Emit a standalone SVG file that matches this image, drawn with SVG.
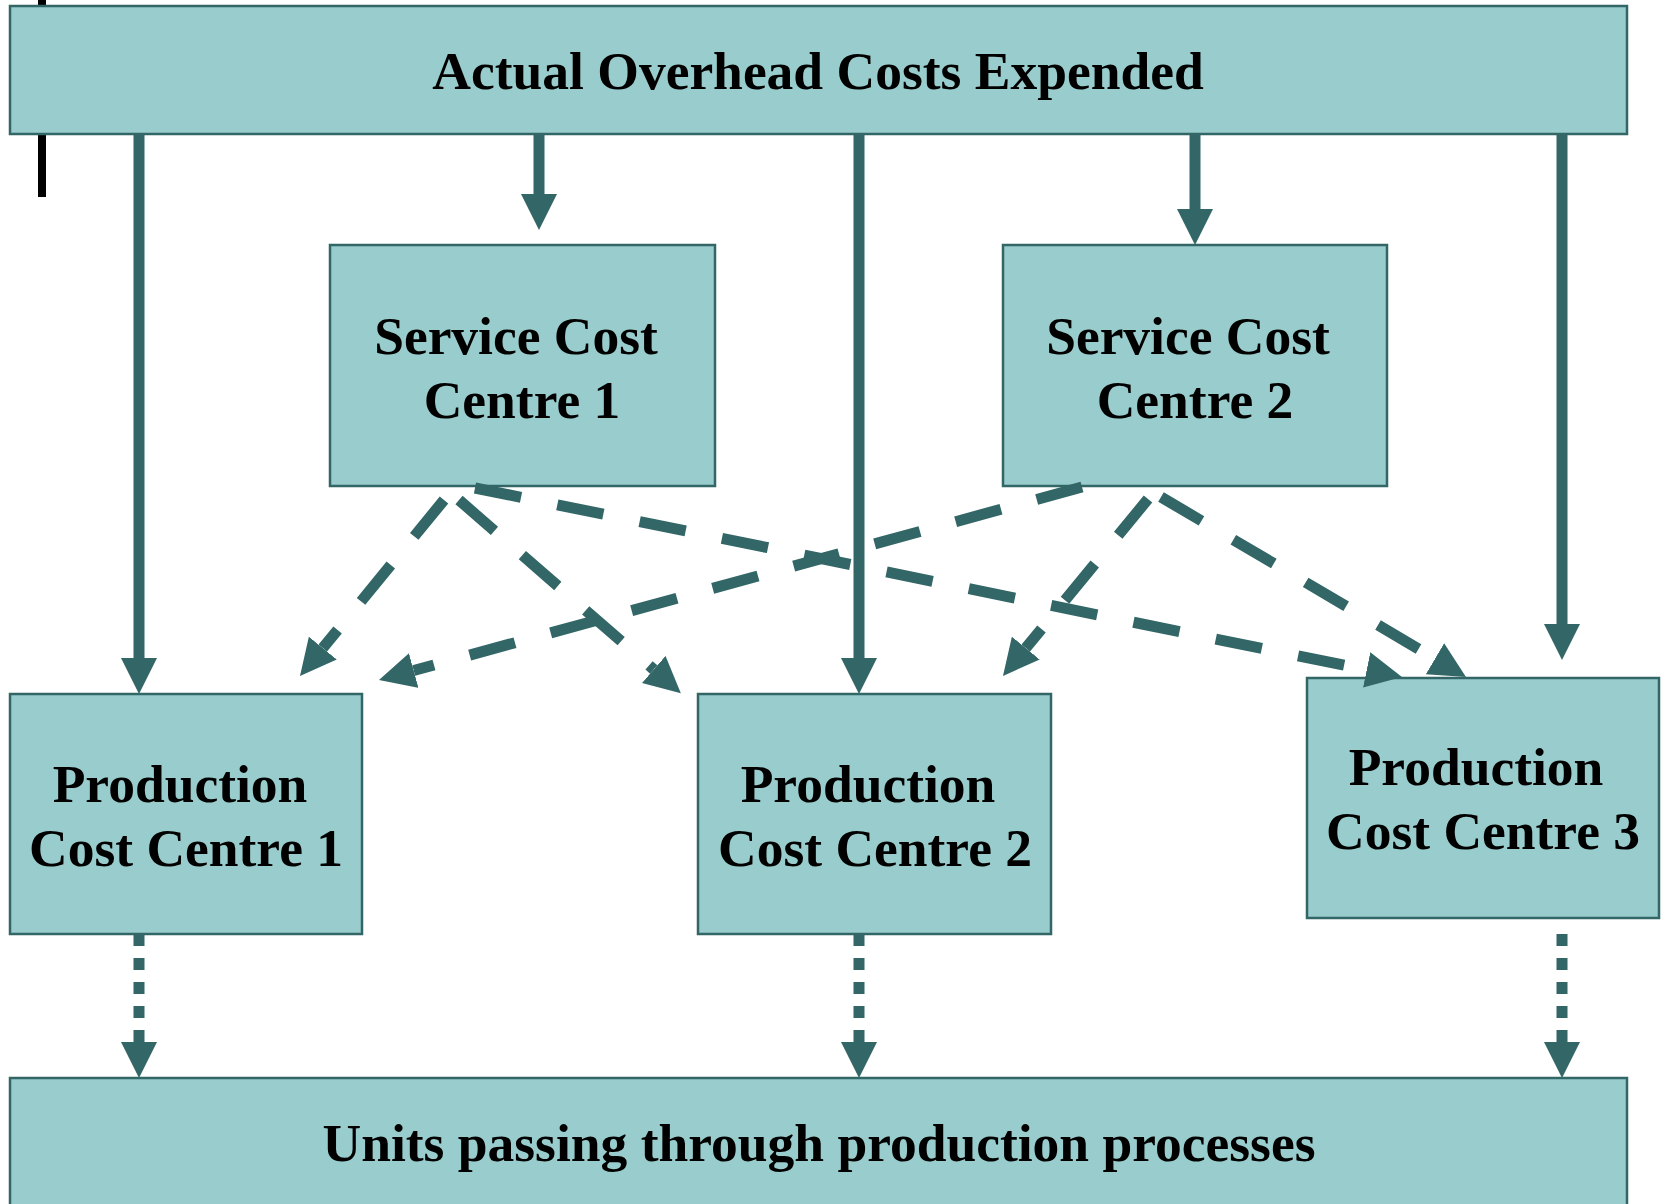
<svg xmlns="http://www.w3.org/2000/svg" width="1666" height="1204" viewBox="0 0 1666 1204">
<style>
.box{fill:#99CCCC;stroke:#336666;stroke-width:2.5}
.t{font-family:"Liberation Serif","Times New Roman",serif;font-weight:bold;font-size:53.5px;fill:#000;text-anchor:middle}
.solid{fill:none;stroke:#336666;stroke-width:11;marker-end:url(#ah)}
.dash{fill:none;stroke:#336666;stroke-width:11;stroke-dasharray:47 37;marker-end:url(#ah)}
.dot{fill:none;stroke:#336666;stroke-width:11;stroke-dasharray:12 12;marker-end:url(#ah)}
</style>
<defs>
<marker id="ah" viewBox="0 0 36 36" markerWidth="36" markerHeight="36" refX="0" refY="18" orient="auto" markerUnits="userSpaceOnUse">
<path d="M0,0 L36,18 L0,36 Z" fill="#336666"/>
</marker>
</defs>
<rect x="38" y="0" width="8" height="197" fill="#000"/>
<g id="top">
<rect class="box" x="10" y="6" width="1617" height="128"/>
<text class="t" x="818" y="89">Actual Overhead Costs Expended</text>
</g>
<g id="sc1">
<rect class="box" x="330" y="245" width="385" height="241"/>
<text class="t" x="516" y="354">Service Cost</text>
<text class="t" x="522" y="418">Centre 1</text>
</g>
<g id="sc2">
<rect class="box" x="1003" y="245" width="384" height="241"/>
<text class="t" x="1188" y="354">Service Cost</text>
<text class="t" x="1195" y="418">Centre 2</text>
</g>
<g id="pc1">
<rect class="box" x="10" y="694" width="352" height="240"/>
<text class="t" x="180" y="802">Production</text>
<text class="t" x="186" y="866">Cost Centre 1</text>
</g>
<g id="pc2">
<rect class="box" x="698" y="694" width="353" height="240"/>
<text class="t" x="868" y="802">Production</text>
<text class="t" x="875" y="866">Cost Centre 2</text>
</g>
<g id="pc3">
<rect class="box" x="1307" y="678" width="352" height="240"/>
<text class="t" x="1476" y="785">Production</text>
<text class="t" x="1483" y="849">Cost Centre 3</text>
</g>
<g id="bottom">
<rect class="box" x="10" y="1078" width="1617" height="140"/>
<text class="t" x="819" y="1161">Units passing through production processes</text>
</g>
<g id="connectors">
<path class="solid" d="M139,134 V658"/>
<path class="solid" d="M539,134 V194"/>
<path class="solid" d="M859,134 V658"/>
<path class="solid" d="M1195,134 V209"/>
<path class="solid" d="M1562,134 V624"/>
<path class="dot" d="M139,934 V1042"/>
<path class="dot" d="M859,934 V1042"/>
<path class="dot" d="M1562,934 V1042"/>
<path class="dash" d="M444,500 L322.8,648.1"/>
<path class="dash" d="M459,500 L653.7,669.5"/>
<path class="dash" d="M475,488 L1366.7,669.8"/>
<path class="dash" d="M1082,487 L413.7,670.5"/>
<path class="dash" d="M1148,499 L1025.8,648.1"/>
<path class="dash" d="M1161,497 L1435,658.7"/>
</g>
</svg>
